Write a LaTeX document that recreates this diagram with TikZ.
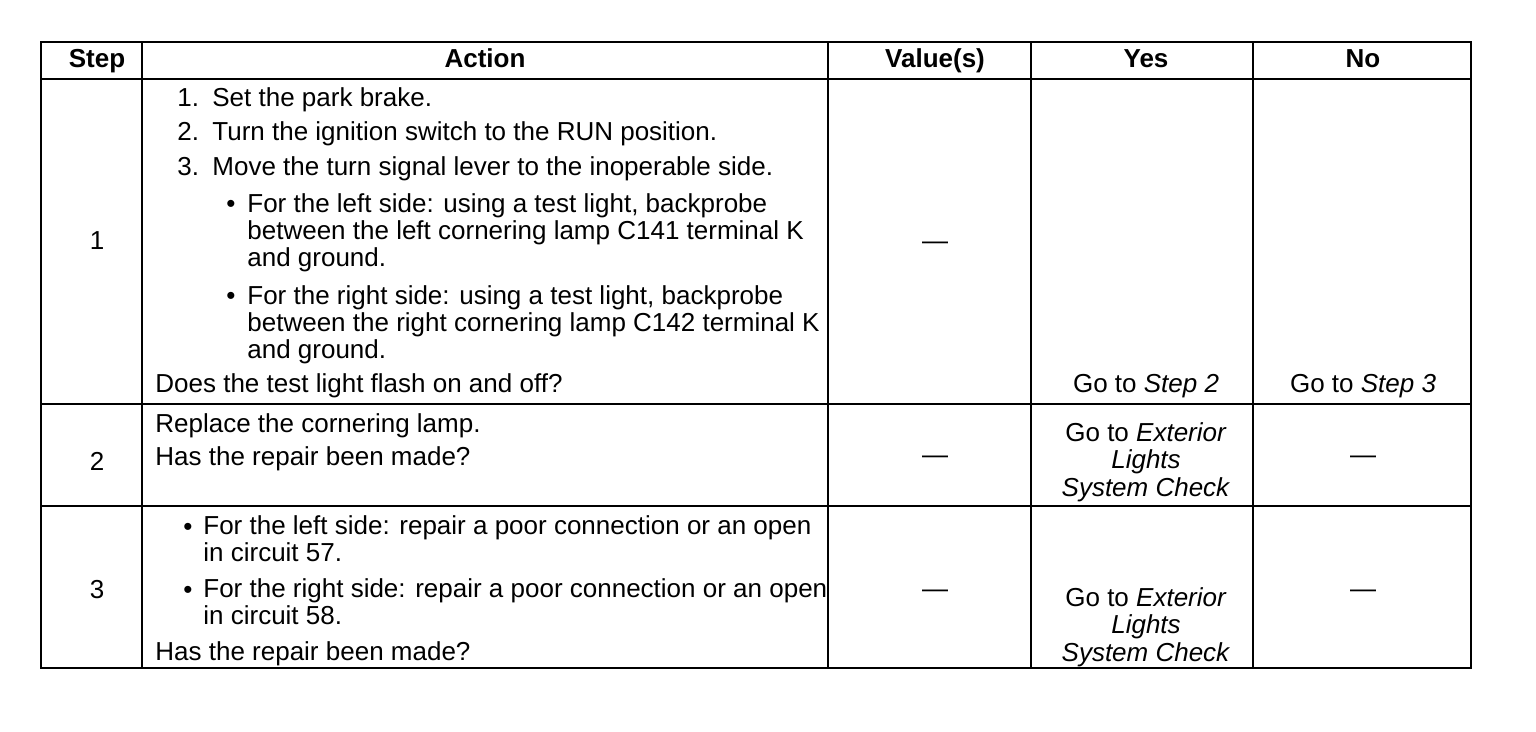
\documentclass[tikz,border=0pt]{standalone}
\usepackage{fontspec}
\setmainfont{Liberation Sans}
\usetikzlibrary{positioning}

\tikzset{
  rule/.style={line width=1.4pt},
  txt/.style={inner sep=0pt, anchor=base west, align=left, font=\fontsize{13}{13.5}\selectfont},
  ctr/.style={inner sep=0pt, anchor=base, align=center, font=\fontsize{13}{13.75}\selectfont},
  head/.style={ctr, font=\fontsize{13}{13.5}\selectfont\bfseries}
}

\begin{document}
\begin{tikzpicture}[x=0.5pt, y=-0.5pt]
    \useasboundingbox (0,0) rectangle (1536,732);

    %-----Grid-----
    \draw[rule] (41,42) rectangle (1471,668);
    \draw[rule] (41,79) -- (1471,79);
    \draw[rule] (41,404) -- (1471,404);
    \draw[rule] (41,506) -- (1471,506);
    \draw[rule] (142,42) -- (142,668);
    \draw[rule] (828,42) -- (828,668);
    \draw[rule] (1031,42) -- (1031,668);
    \draw[rule] (1253,42) -- (1253,668);

    %-----Header-----
    \node[head] (hstep) at (97,68) {Step};
    \node[head] (haction) at (485,68) {Action};
    \node[head] (hvalue) at (935,68) {Value(s)};
    \node[head] (hyes) at (1146,68) {Yes};
    \node[head] (hno) at (1363,68) {No};

    %-----Step 1-----
    \node[ctr] (step1) at (97,250) {1};
    % multi-line nodes sit on their last line
    \node[txt] (list1) at (177,176) {%
        \makebox[17.5pt][l]{1.}Set the park brake.\\[3.5pt]
        \makebox[17.5pt][l]{2.}Turn the ignition switch to the RUN position.\\[4pt]
        \makebox[17.5pt][l]{3.}Move the turn signal lever to the inoperable side.
    };
    \node[txt] (bulleft1) at (226,213) {\textbullet};
    \node[txt] (left1) at (247,267) {%
        For the left side: using a test light, backprobe\\
        between the left cornering lamp C141 terminal K\\
        and ground.
    };
    \node[txt] (bulright1) at (226,305) {\textbullet};
    \node[txt] (right1) at (247,359) {%
        For the right side: using a test light, backprobe\\
        between the right cornering lamp C142 terminal K\\
        and ground.
    };
    \node[txt] (ask1) at (155,393) {Does the test light flash on and off?};
    \node[ctr] (value1) at (935,250) {---};
    \node[ctr] (yes1) at (1146,393) {Go to \textit{Step 2}};
    \node[ctr] (no1) at (1363,393) {Go to \textit{Step 3}};

    %-----Step 2-----
    \node[ctr] (step2) at (97,470) {2};
    \node[txt] (act2) at (155,466) {Replace the cornering lamp.\\[3.5pt] Has the repair been made?};
    \node[ctr] (value2) at (935,464) {---};
    \node[ctr] (yes2) at (1146,496) {Go to \textit{Exterior}\\ \textit{Lights}\\ \textit{System Check}};
    \node[ctr] (no2) at (1363,464) {---};

    %-----Step 3-----
    \node[ctr] (step3) at (97,598) {3};
    \node[txt] (bulleft3) at (183,535) {\textbullet};
    \node[txt] (left3) at (203,561) {%
        For the left side: repair a poor connection or an open\\
        in circuit 57.
    };
    \node[txt] (bulright3) at (183,598) {\textbullet};
    \node[txt] (right3) at (203,624) {%
        For the right side: repair a poor connection or an open\\
        in circuit 58.
    };
    \node[txt] (ask3) at (155,660) {Has the repair been made?};
    \node[ctr] (value3) at (935,597) {---};
    \node[ctr] (yes3) at (1146,661) {Go to \textit{Exterior}\\ \textit{Lights}\\ \textit{System Check}};
    \node[ctr] (no3) at (1363,597) {---};

\end{tikzpicture}
\end{document}
